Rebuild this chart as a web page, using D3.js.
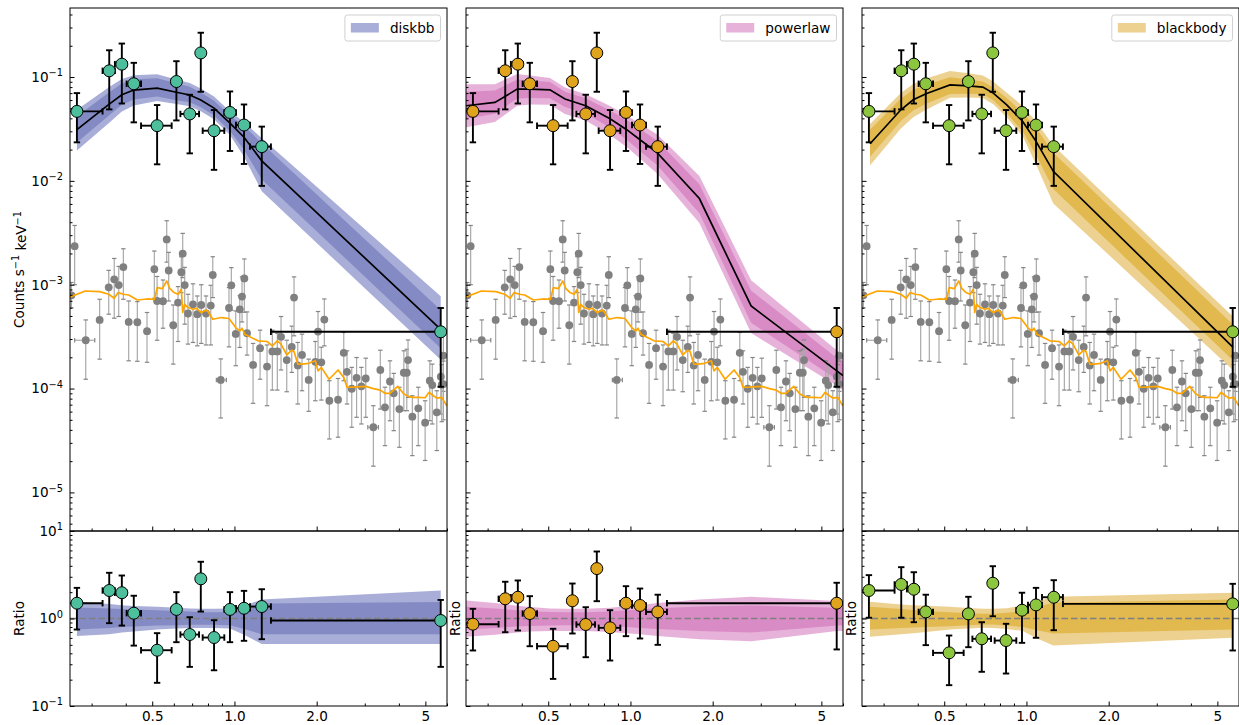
<!DOCTYPE html>
<html>
<head>
<meta charset="utf-8">
<script src="https://cdn.jsdelivr.net/npm/d3@7"></script>
<style>
  body { margin: 0; background: #ffffff; }
  svg { display: block; }
  text { font-family: "DejaVu Sans", sans-serif; fill: #000; }
</style>
</head>
<body>
<svg id="chart" width="1239" height="725"></svg>
<script>
// ---------------- Source spectrum (grouped bins, counts s^-1 keV^-1) ----------------
const binEnergy = [0.265, 0.348, 0.387, 0.428, 0.521, 0.613, 0.686, 0.753, 0.842, 0.963, 1.084, 1.259, 5.69];
const binLo     = [0.20, 0.329, 0.365, 0.403, 0.455, 0.589, 0.634, 0.742, 0.765, 0.918, 1.013, 1.14, 1.36];
const binHi     = [0.329, 0.365, 0.403, 0.455, 0.589, 0.634, 0.742, 0.765, 0.918, 1.013, 1.14, 1.36, 10.0];
const srcRate   = [0.0467, 0.1148, 0.133, 0.0861, 0.034, 0.0905, 0.0441, 0.1706, 0.0304, 0.0456, 0.0345, 0.02136, 3.52e-4];
const srcRateHi = [0.070, 0.181, 0.210, 0.137, 0.0537, 0.142, 0.0675, 0.267, 0.0481, 0.0726, 0.0544, 0.0333, 5.97e-4];
const srcRateLo = [0.0235, 0.0488, 0.0556, 0.0366, 0.01443, 0.0382, 0.0184, 0.0721, 0.01277, 0.0194, 0.01455, 0.00895, 1.04e-4];

// ---------------- Background spectrum ----------------
const bkgEnergy = [0.260, 0.253, 0.2855, 0.321, 0.3465, 0.363, 0.377, 0.392, 0.410, 0.441,
  0.4785, 0.509, 0.521, 0.5475, 0.565, 0.5745, 0.597, 0.6215, 0.639, 0.6465,
  0.6575, 0.676, 0.705, 0.731, 0.756, 0.787, 0.819, 0.833, 0.891, 0.955,
  0.974, 1.011, 1.046, 1.066, 1.087, 1.112, 1.17, 1.241, 1.316, 1.3765,
  1.4355, 1.481, 1.554, 1.621, 1.6525, 1.705, 1.7675, 1.87, 1.978, 2.023,
  2.08, 2.1335, 2.2255, 2.395, 2.513, 2.583, 2.688, 2.8, 2.915, 3.025,
  3.225, 3.42, 3.557, 3.71, 3.83, 4.015, 4.17, 4.275, 4.32, 4.48,
  4.71, 4.99, 5.19, 5.30, 5.505, 5.695, 5.82, 5.82, 5.74];
const bkgRate = [2.35e-3, 7.9e-4, 2.92e-4, 4.58e-4, 9.44e-4, 1.127e-3, 9.93e-4, 1.48e-3, 4.38e-4, 4.35e-4,
  3.57e-4, 1.41e-3, 6.97e-4, 6.93e-4, 2.73e-3, 1.37e-3, 4.07e-4, 6.73e-4, 1.32e-3, 1.99e-3,
  9.93e-4, 5.28e-4, 6.48e-4, 5.2e-4, 6.38e-4, 5.28e-4, 6.3e-4, 1.24e-3, 1.21e-4, 5.97e-4,
  9.87e-4, 3.36e-4, 5.8e-4, 7.69e-4, 1.15e-3, 3.41e-4, 1.69e-4, 2.45e-4, 1.63e-4, 2.28e-4,
  2.28e-4, 3.15e-4, 1.88e-4, 2.52e-4, 7.52e-4, 1.67e-4, 2.11e-4, 1.21e-4, 1.81e-4, 3.54e-4,
  1.79e-4, 4.62e-4, 7.63e-5, 7.8e-5, 2.21e-4, 1.45e-4, 9.96e-5, 1.27e-4, 1.05e-4, 1.25e-4,
  4.24e-5, 1.51e-4, 6.6e-5, 1.17e-4, 9.0e-5, 6.35e-5, 1.42e-4, 1.42e-4, 1.88e-4, 5.36e-5,
  6.45e-5, 4.69e-5, 1.19e-4, 1.08e-4, 5.91e-5, 1.3e-4, 2.07e-4, 1.1e-4, 1.09e-4];
const bkgRateHi = [3.72e-3, 1.05e-3, 4.58e-4, 7.24e-4, 1.375e-3, 1.79e-3, 1.50e-3, 2.22e-3, 6.97e-4, 6.88e-4,
  5.4e-4, 2.11e-3, 1.2e-3, 1.11e-3, 4.13e-3, 2.05e-3, 6.38e-4, 9.59e-4, 1.86e-3, 3.12e-3,
  1.47e-3, 8.09e-4, 1.02e-3, 7.79e-4, 1.0e-3, 7.79e-4, 9.87e-4, 1.86e-3, 1.93e-4, 9.38e-4,
  1.46e-3, 5.59e-4, 7.85e-4, 1.19e-3, 1.77e-3, 5.47e-4, 2.72e-4, 3.65e-4, 2.63e-4, 3.65e-4,
  3.41e-4, 4.94e-4, 2.92e-4, 3.99e-4, 1.19e-3, 2.78e-4, 3.34e-4, 1.92e-4, 2.84e-4, 5.52e-4,
  2.5e-4, 7.29e-4, 1.19e-4, 1.25e-4, 3.47e-4, 2.31e-4, 1.6e-4, 1.99e-4, 1.6e-4, 1.96e-4,
  6.84e-5, 2.34e-4, 1.03e-4, 1.85e-4, 1.4e-4, 1.03e-4, 2.31e-4, 2.39e-4, 2.94e-4, 8.53e-5,
  1.03e-4, 7.63e-5, 1.85e-4, 1.72e-4, 9.53e-5, 2.05e-4, 3.27e-4, 1.84e-4, 1.7e-4];
const bkgRateLo = [1.0e-3, 6.0e-4, 1.23e-4, 1.92e-4, 5.2e-4, 4.76e-4, 4.94e-4, 7.24e-4, 1.85e-4, 1.83e-4,
  1.79e-4, 7.4e-4, 2.92e-4, 3.81e-4, 1.65e-3, 6.97e-4, 1.72e-4, 2.84e-4, 8.4e-4, 1.17e-3,
  4.17e-4, 2.68e-4, 2.78e-4, 2.58e-4, 2.72e-4, 2.63e-4, 2.63e-4, 7.52e-4, 5.21e-5, 2.52e-4,
  5.68e-4, 1.66e-4, 2.49e-4, 4.38e-4, 5.43e-4, 2.1e-4, 7.21e-5, 1.23e-4, 6.84e-5, 9.67e-5,
  9.67e-5, 1.51e-4, 9.32e-5, 1.43e-4, 3.22e-4, 7.1e-5, 9.53e-5, 6.04e-5, 7.63e-5, 1.85e-4,
  7.75e-5, 2.58e-4, 3.27e-5, 3.4e-5, 1.19e-4, 7.1e-5, 4.24e-5, 5.29e-5, 4.56e-5, 5.29e-5,
  1.79e-5, 6.35e-5, 2.82e-5, 4.9e-5, 3.93e-5, 2.72e-5, 6.12e-5, 6.12e-5, 8.23e-5, 2.26e-5,
  2.82e-5, 2.03e-5, 4.9e-5, 4.56e-5, 2.53e-5, 5.68e-5, 9.4e-5, 5.0e-5, 4.8e-5];
// Background bins whose width is wider than the marker: [index, low edge, high edge]
const bkgWideBins = [[2, 0.260, 0.308], [10, 0.470, 0.490], [28, 0.8585, 0.934], [60, 3.078, 3.365]];

// Background model
const bkgModelEnergy = [0.25, 0.2845, 0.321, 0.3465, 0.363, 0.375, 0.392, 0.41, 0.441, 0.4785,
  0.509, 0.522, 0.5445, 0.565, 0.5795, 0.601, 0.6215, 0.639, 0.6465, 0.6575,
  0.676, 0.705, 0.725, 0.756, 0.787, 0.80, 0.833, 0.895, 0.955, 1.011,
  1.046, 1.066, 1.091, 1.22, 1.316, 1.3765, 1.4355, 1.481, 1.554, 1.621,
  1.6525, 1.705, 1.7675, 1.87, 1.978, 2.023, 2.08, 2.22, 2.395, 2.513,
  2.583, 2.688, 2.8, 3.025, 3.225, 3.42, 3.557, 3.71, 3.96, 4.17,
  4.33, 4.48, 4.71, 4.99, 5.16, 5.35, 5.505, 5.74, 5.99];
const bkgModelRate = [7.62e-4, 8.7e-4, 8.58e-4, 8.09e-4, 7.4e-4, 8.4e-4, 8.09e-4, 7.96e-4, 7.13e-4, 7.29e-4,
  7.24e-4, 9.38e-4, 9.17e-4, 1.085e-3, 9.24e-4, 8.4e-4, 8.09e-4, 9.03e-4, 5.4e-4, 6.48e-4,
  6.03e-4, 5.8e-4, 5.93e-4, 5.4e-4, 5.71e-4, 5.52e-4, 4.65e-4, 4.83e-4, 4.73e-4, 3.87e-4,
  3.59e-4, 3.81e-4, 3.34e-4, 2.88e-4, 2.84e-4, 2.58e-4, 2.88e-4, 2.68e-4, 2.11e-4, 2.34e-4,
  2.28e-4, 1.72e-4, 1.72e-4, 1.75e-4, 1.85e-4, 1.48e-4, 1.6e-4, 1.23e-4, 1.51e-4, 1.28e-4,
  1.03e-4, 1.03e-4, 1.04e-4, 1.05e-4, 1.0e-4, 9.67e-5, 9.0e-5, 9.0e-5, 1.05e-4, 8.86e-5,
  8.41e-5, 8.23e-5, 8.23e-5, 8.16e-5, 9.2e-5, 8.53e-5, 8.1e-5, 8.23e-5, 6.84e-5];

// ---------------- Model fits: median folded model, quantiles relative to the median ----------------
const diskbbEnergy = [0.265, 0.348, 0.387, 0.428, 0.521, 0.613, 0.686, 0.753, 0.842, 0.963, 1.084, 1.259, 5.69];
const diskbbMedian = [0.0312, 0.0549, 0.0675, 0.0749, 0.0783, 0.0713, 0.0672, 0.0601, 0.0502, 0.0359, 0.0263, 0.0156, 3.71e-4];
const diskbbQ975 = [1.55, 1.46, 1.42, 1.39, 1.36, 1.33, 1.30, 1.29, 1.29, 1.30, 1.40, 1.65, 2.09];
const diskbbQ84  = [1.34, 1.30, 1.28, 1.27, 1.24, 1.22, 1.20, 1.18, 1.18, 1.19, 1.28, 1.48, 1.54];
const diskbbQ16  = [0.75, 0.78, 0.80, 0.81, 0.83, 0.84, 0.85, 0.85, 0.85, 0.84, 0.76, 0.66, 0.66];
const diskbbQ025 = [0.63, 0.66, 0.69, 0.71, 0.75, 0.77, 0.78, 0.78, 0.78, 0.77, 0.65, 0.51, 0.51];
const diskbbRatio   = [1.496, 2.09, 1.97, 1.15, 0.434, 1.27, 0.656, 2.84, 0.606, 1.27, 1.31, 1.37, 0.949];
const diskbbRatioHi = [2.24, 3.33, 3.10, 1.82, 0.68, 2.0, 1.035, 4.45, 0.956, 2.0, 2.07, 2.16, 1.63];
const diskbbRatioLo = [0.748, 0.884, 0.83, 0.49, 0.184, 0.536, 0.28, 1.20, 0.256, 0.536, 0.556, 0.58, 0.28];

const powerlawEnergy = [0.25, 0.319, 0.385, 0.429, 0.5075, 0.576, 0.686, 0.842, 0.969, 1.084, 1.254, 1.788, 2.765, 5.695, 6.0];
const powerlawMedian = [0.0529, 0.0569, 0.0765, 0.0765, 0.0753, 0.0613, 0.0529, 0.0396, 0.0311, 0.0249, 0.0186, 6.76e-3, 6.24e-4, 1.48e-4, 1.33e-4];
const powerlawQ975 = [1.61, 1.50, 1.40, 1.35, 1.30, 1.29, 1.29, 1.33, 1.38, 1.42, 1.50, 1.65, 1.77, 1.58, 1.58];
const powerlawQ84  = [1.36, 1.30, 1.24, 1.21, 1.19, 1.18, 1.18, 1.20, 1.24, 1.27, 1.31, 1.37, 1.41, 1.33, 1.33];
const powerlawQ16  = [0.75, 0.78, 0.81, 0.82, 0.83, 0.84, 0.84, 0.82, 0.80, 0.78, 0.76, 0.72, 0.69, 0.83, 0.83];
const powerlawQ025 = [0.62, 0.65, 0.69, 0.71, 0.72, 0.72, 0.72, 0.70, 0.68, 0.66, 0.63, 0.58, 0.55, 0.72, 0.72];
const powerlawRatio   = [0.861, 1.68, 1.75, 1.14, 0.482, 1.594, 0.854, 3.72, 0.783, 1.496, 1.41, 1.19, 1.496];
const powerlawRatioHi = [1.29, 2.63, 2.72, 1.80, 0.763, 2.51, 1.346, 5.83, 1.244, 2.34, 2.2, 1.87, 2.56];
const powerlawRatioLo = [0.431, 0.697, 0.729, 0.482, 0.204, 0.674, 0.361, 1.577, 0.331, 0.628, 0.591, 0.50, 0.443];

const blackbodyEnergy = [0.2675, 0.347, 0.385, 0.429, 0.525, 0.6125, 0.692, 0.756, 0.847, 0.969, 1.084, 1.254, 5.71];
const blackbodyMedian = [0.0228, 0.0484, 0.0604, 0.069, 0.0841, 0.0823, 0.080, 0.070, 0.054, 0.0373, 0.024, 0.01236, 2.49e-4];
const blackbodyQ975 = [1.55, 1.45, 1.42, 1.40, 1.36, 1.32, 1.29, 1.29, 1.31, 1.41, 1.55, 1.77, 1.97];
const blackbodyQ84  = [1.36, 1.28, 1.25, 1.22, 1.18, 1.15, 1.13, 1.13, 1.16, 1.21, 1.35, 1.51, 1.65];
const blackbodyQ16  = [0.75, 0.78, 0.79, 0.80, 0.817, 0.84, 0.854, 0.854, 0.83, 0.80, 0.74, 0.674, 0.749];
const blackbodyQ025 = [0.618, 0.66, 0.68, 0.70, 0.749, 0.77, 0.783, 0.78, 0.76, 0.72, 0.60, 0.491, 0.602];
const blackbodyRatio   = [2.09, 2.45, 2.16, 1.19, 0.405, 1.13, 0.586, 2.53, 0.56, 1.244, 1.43, 1.75, 1.47];
const blackbodyRatioHi = [3.13, 3.86, 3.38, 1.87, 0.639, 1.77, 0.907, 3.96, 0.87, 1.97, 2.24, 2.74, 2.49];
const blackbodyRatioLo = [1.02, 1.02, 0.907, 0.496, 0.173, 0.47, 0.246, 1.06, 0.235, 0.527, 0.602, 0.735, 0.431];

// Axis ticks
const xTickValues = [0.5, 1.0, 2.0, 5];
const xTickLabels = ["0.5", "1.0", "2.0", "5"];
const countTicks = [1e-1, 1e-2, 1e-3, 1e-4, 1e-5];
const ratioTicks = [1e-1, 1e0, 1e1];

// ---------------- Panels ----------------
const panels = [
  { name: "diskbb", energy: diskbbEnergy, median: diskbbMedian, q975: diskbbQ975, q84: diskbbQ84, q16: diskbbQ16, q025: diskbbQ025,
    ratio: diskbbRatio, ratioHi: diskbbRatioHi, ratioLo: diskbbRatioLo,
    outer: "#a9aed9", inner: "#848bc4", marker: "#4dbf9c" },
  { name: "powerlaw", energy: powerlawEnergy, median: powerlawMedian, q975: powerlawQ975, q84: powerlawQ84, q16: powerlawQ16, q025: powerlawQ025,
    ratio: powerlawRatio, ratioHi: powerlawRatioHi, ratioLo: powerlawRatioLo,
    outer: "#e6b2da", inner: "#d98bc5", marker: "#e0a31c" },
  { name: "blackbody", energy: blackbodyEnergy, median: blackbodyMedian, q975: blackbodyQ975, q84: blackbodyQ84, q16: blackbodyQ16, q025: blackbodyQ025,
    ratio: blackbodyRatio, ratioHi: blackbodyRatioHi, ratioLo: blackbodyRatioLo,
    outer: "#edd190", inner: "#e2b94f", marker: "#8cc63f" }
];

const svg = d3.select("#chart");
const panelLeft = [70, 466, 862];
const panelWidth = 377;
const mainTop = 8, mainBottom = 531, ratioBottom = 706;

const yMain = d3.scaleLog().domain([4.25e-6, 0.462]).range([mainBottom, mainTop]);
const yRatio = d3.scaleLog().domain([0.1, 10]).range([ratioBottom, mainBottom]);

function minorTicks(domain, majors) {
  const out = [];
  const lo = Math.floor(Math.log10(domain[0])), hi = Math.ceil(Math.log10(domain[1]));
  for (let k = lo; k <= hi; k++) {
    for (let m = 1; m <= 9; m++) {
      const v = m * Math.pow(10, k);
      if (v >= domain[0] * 0.9999 && v <= domain[1] * 1.0001 && !majors.some(t => Math.abs(t - v) / v < 1e-6)) out.push(v);
    }
  }
  return out;
}

function powLabel(textSel) {
  textSel.each(function(d) {
    const e = Math.round(Math.log10(d));
    const t = d3.select(this);
    t.text(null);
    t.append("tspan").text("10");
    t.append("tspan").attr("dy", "-0.55em").attr("font-size", "0.72em").text(e < 0 ? "\u2212" + (-e) : String(e));
  });
}

function errorBars(g, pts, color, width, cap, capColor) {
  // pts: {x, y, x0, x1, y0, y1}
  const ge = g.append("g").attr("stroke", color).attr("stroke-width", width).attr("fill", "none");
  pts.forEach(p => {
    if (p.y0 != null) {
      ge.append("line").attr("x1", p.x).attr("x2", p.x).attr("y1", p.y0).attr("y2", p.y1);
      ge.append("line").attr("x1", p.x - cap).attr("x2", p.x + cap).attr("y1", p.y0).attr("y2", p.y0).attr("stroke", capColor || color);
      ge.append("line").attr("x1", p.x - cap).attr("x2", p.x + cap).attr("y1", p.y1).attr("y2", p.y1).attr("stroke", capColor || color);
    }
    if (p.x0 != null) {
      ge.append("line").attr("x1", p.x0).attr("x2", p.x1).attr("y1", p.y).attr("y2", p.y);
      ge.append("line").attr("x1", p.x0).attr("x2", p.x0).attr("y1", p.y - cap).attr("y2", p.y + cap).attr("stroke", capColor || color);
      ge.append("line").attr("x1", p.x1).attr("x2", p.x1).attr("y1", p.y - cap).attr("y2", p.y + cap).attr("stroke", capColor || color);
    }
  });
}

panels.forEach((P, pi) => {
  const left = panelLeft[pi];
  const x = d3.scaleLog().domain([0.25, 6.0]).range([left, left + panelWidth]);
  const g = svg.append("g");

  // clip regions
  const clipMain = "clipMain" + pi, clipRatio = "clipRatio" + pi;
  const defs = svg.append("defs");
  defs.append("clipPath").attr("id", clipMain).append("rect")
    .attr("x", left).attr("y", mainTop).attr("width", panelWidth).attr("height", mainBottom - mainTop);
  defs.append("clipPath").attr("id", clipRatio).append("rect")
    .attr("x", left).attr("y", mainBottom).attr("width", panelWidth).attr("height", ratioBottom - mainBottom);

  // ---------- main spectrum panel ----------
  const gm = g.append("g").attr("clip-path", `url(#${clipMain})`);
  const idx = P.energy.map((_, i) => i);
  const bandArea = (qLo, qHi) => d3.area()
    .x(i => x(P.energy[i]))
    .y0(i => yMain(P.median[i] * qLo[i]))
    .y1(i => yMain(P.median[i] * qHi[i]));
  gm.append("path").attr("d", bandArea(P.q025, P.q975)(idx)).attr("fill", P.outer);
  gm.append("path").attr("d", bandArea(P.q16, P.q84)(idx)).attr("fill", P.inner);

  // background points
  const bkgIdx = bkgEnergy.map((_, i) => i);
  errorBars(gm, bkgIdx.map(i => ({ x: x(bkgEnergy[i]), y: yMain(bkgRate[i]), y0: yMain(bkgRateLo[i]), y1: yMain(bkgRateHi[i]) })),
    "#a9a9a9", 1.2, 2.2, "#858585");
  errorBars(gm, bkgWideBins.map(([i, lo, hi]) => ({ x: x(bkgEnergy[i]), y: yMain(bkgRate[i]), x0: x(lo), x1: x(hi) })),
    "#a9a9a9", 1.2, 2.2, "#858585");
  gm.append("g").selectAll("circle").data(bkgIdx).join("circle")
    .attr("cx", i => x(bkgEnergy[i])).attr("cy", i => yMain(bkgRate[i])).attr("r", 3.9).attr("fill", "#808080");

  // background model
  gm.append("path")
    .attr("d", d3.line().x(i => x(bkgModelEnergy[i])).y(i => yMain(bkgModelRate[i]))(bkgModelEnergy.map((_, i) => i)))
    .attr("fill", "none").attr("stroke", "#ffa500").attr("stroke-width", 1.7).attr("stroke-linejoin", "round");

  // median model
  gm.append("path")
    .attr("d", d3.line().x(i => x(P.energy[i])).y(i => yMain(P.median[i]))(idx))
    .attr("fill", "none").attr("stroke", "#000").attr("stroke-width", 1.7);

  // source points
  const srcIdx = binEnergy.map((_, i) => i);
  errorBars(gm, srcIdx.map(i => ({ x: x(binEnergy[i]), y: yMain(srcRate[i]),
    y0: yMain(srcRateLo[i]), y1: yMain(srcRateHi[i]), x0: x(binLo[i]), x1: x(binHi[i]) })), "#000", 1.9, 3.2);
  gm.append("g").selectAll("circle").data(srcIdx).join("circle")
    .attr("cx", i => x(binEnergy[i])).attr("cy", i => yMain(srcRate[i])).attr("r", 6)
    .attr("fill", P.marker).attr("stroke", "#000").attr("stroke-width", 1);

  // ---------- ratio panel ----------
  const gr = g.append("g").attr("clip-path", `url(#${clipRatio})`);
  const ratioArea = (qLo, qHi) => d3.area().x(i => x(P.energy[i])).y0(i => yRatio(qLo[i])).y1(i => yRatio(qHi[i]));
  gr.append("path").attr("d", ratioArea(P.q025, P.q975)(idx)).attr("fill", P.outer);
  gr.append("path").attr("d", ratioArea(P.q16, P.q84)(idx)).attr("fill", P.inner);
  gr.append("line").attr("x1", left).attr("x2", left + panelWidth).attr("y1", yRatio(1)).attr("y2", yRatio(1))
    .attr("stroke", "#808080").attr("stroke-width", 1.7).attr("stroke-dasharray", "6.5,3");
  errorBars(gr, srcIdx.map(i => ({ x: x(binEnergy[i]), y: yRatio(P.ratio[i]),
    y0: yRatio(P.ratioLo[i]), y1: yRatio(P.ratioHi[i]), x0: x(binLo[i]), x1: x(binHi[i]) })), "#000", 1.9, 3.2);
  gr.append("g").selectAll("circle").data(srcIdx).join("circle")
    .attr("cx", i => x(binEnergy[i])).attr("cy", i => yRatio(P.ratio[i])).attr("r", 6)
    .attr("fill", P.marker).attr("stroke", "#000").attr("stroke-width", 1);

  // ---------- axes ----------
  const xMinor = minorTicks([0.25, 6.0], xTickValues);
  [mainBottom, ratioBottom].forEach(yb => {
    const labelled = yb === ratioBottom;
    const ax = g.append("g").attr("transform", `translate(0,${yb})`)
      .call(d3.axisBottom(x).tickValues(xTickValues).tickSizeInner(-4.5).tickSizeOuter(0).tickPadding(5)
        .tickFormat((d, i) => labelled ? xTickLabels[i] : ""));
    ax.select(".domain").remove();
    ax.selectAll("text").attr("font-size", 13.6).attr("font-family", "DejaVu Sans").attr("fill", "#000");
    const axm = g.append("g").attr("transform", `translate(0,${yb})`)
      .call(d3.axisBottom(x).tickValues(xMinor).tickSizeInner(-2.5).tickSizeOuter(0).tickFormat(""));
    axm.select(".domain").remove();
  });

  [[yMain, countTicks], [yRatio, ratioTicks]].forEach(([ys, majors]) => {
    const ay = g.append("g").attr("transform", `translate(${left},0)`)
      .call(d3.axisLeft(ys).tickValues(majors).tickSizeInner(-4.5).tickSizeOuter(0).tickPadding(7));
    ay.select(".domain").remove();
    if (pi === 0) {
      ay.selectAll("text").attr("font-size", 13.6).attr("font-family", "DejaVu Sans").attr("fill", "#000").call(powLabel);
    } else {
      ay.selectAll("text").remove();
    }
    const aym = g.append("g").attr("transform", `translate(${left},0)`)
      .call(d3.axisLeft(ys).tickValues(minorTicks(ys.domain(), majors)).tickSizeInner(-2.5).tickSizeOuter(0).tickFormat(""));
    aym.select(".domain").remove();
  });

  // frames
  g.append("rect").attr("x", left).attr("y", mainTop).attr("width", panelWidth).attr("height", mainBottom - mainTop)
    .attr("fill", "none").attr("stroke", "#000").attr("stroke-width", 1);
  g.append("rect").attr("x", left).attr("y", mainBottom).attr("width", panelWidth).attr("height", ratioBottom - mainBottom)
    .attr("fill", "none").attr("stroke", "#000").attr("stroke-width", 1);

  // ratio label
  const rlx = pi === 0 ? 19 : left - 10.5;
  g.append("text").attr("transform", `translate(${rlx},${(mainBottom + ratioBottom) / 2}) rotate(-90)`)
    .attr("text-anchor", "middle").attr("dy", "0.35em").attr("font-size", 13.6).text("Ratio");

  // legend
  const lg = g.append("g");
  const legendText = lg.append("text").attr("font-size", 13.6).text(P.name);
  const tw = legendText.node().getComputedTextLength();
  const boxRight = left + panelWidth - 6.5;
  const boxW = 6 + 28 + 11 + tw + 6;
  const boxX = boxRight - boxW;
  lg.insert("rect", "text").attr("x", boxX).attr("y", 15).attr("width", boxW).attr("height", 26)
    .attr("rx", 2.5).attr("fill", "#fff").attr("fill-opacity", 0.8).attr("stroke", "#d0d0d0").attr("stroke-width", 1);
  lg.insert("rect", "text").attr("x", boxX + 6).attr("y", 23).attr("width", 28).attr("height", 9.5).attr("fill", P.outer);
  legendText.attr("x", boxX + 6 + 28 + 11).attr("y", 32.5);
});

// y axis title
const yt = svg.append("text").attr("transform", `translate(19,${(mainTop + mainBottom) / 2}) rotate(-90)`)
  .attr("text-anchor", "middle").attr("dy", "0.35em").attr("font-size", 13.6);
yt.append("tspan").text("Counts s");
yt.append("tspan").attr("dy", "-0.5em").attr("font-size", "0.72em").text("\u22121");
yt.append("tspan").attr("dy", "0.5em").text(" keV");
yt.append("tspan").attr("dy", "-0.5em").attr("font-size", "0.72em").text("\u22121");
</script>
</body>
</html>
